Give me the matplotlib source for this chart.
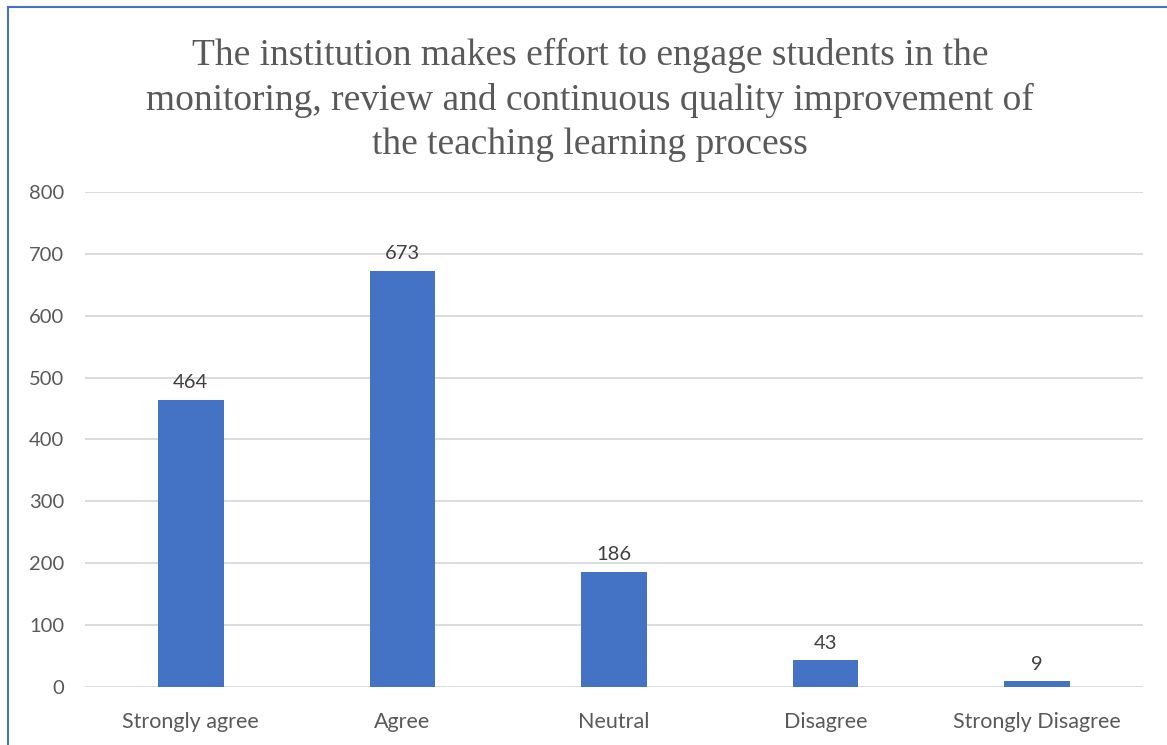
import matplotlib.pyplot as plt
from matplotlib.lines import Line2D

categories = ["Strongly agree", "Agree", "Neutral", "Disagree", "Strongly Disagree"]
counts = [464, 673, 186, 43, 9]
yticks = [0, 100, 200, 300, 400, 500, 600, 700, 800]

W, H = 1167, 745
fig = plt.figure(figsize=(W / 100, H / 100), dpi=100)
ax = fig.add_axes([85 / W, 1 - 687 / H, (1143 - 85) / W, (687 - 192) / H])

x = range(len(categories))
bars = ax.bar(x, counts, width=0.31, color="#4472C4", zorder=3)
for b, v in zip(bars, counts):
    ax.text(b.get_x() + b.get_width() / 2, v + 14, str(v), ha="center", va="bottom",
            fontsize=14.5, color="#404040", family="Lato")

ax.set_xlim(-0.5, len(categories) - 0.5)
ax.set_ylim(0, 800)
ax.set_yticks(yticks)
ax.set_xticks(list(x))
ax.set_xticklabels(categories)
ax.grid(axis="y", color="#D9D9D9", linewidth=1.3, zorder=0)
for s in ax.spines.values():
    s.set_visible(False)
ax.tick_params(length=0, labelcolor="#595959")
ax.tick_params(axis="y", pad=15, labelsize=14.5)
ax.tick_params(axis="x", pad=18, labelsize=15.5)
for lab in ax.get_xticklabels() + ax.get_yticklabels():
    lab.set_family("Lato")

fig.text(590 / W, 1 - 100 / H,
         "The institution makes effort to engage students in the\n"
         "monitoring, review and continuous quality improvement of\n"
         "the teaching learning process",
         ha="center", va="center", fontsize=27, color="#595959",
         family="Liberation Serif", linespacing=1.35)

# partial chart frame (left and top edges visible)
fig.add_artist(Line2D([8 / W, 8 / W], [0, 1 - 7 / H], transform=fig.transFigure,
                      color="#4472C4", linewidth=1.5))
fig.add_artist(Line2D([8 / W, 1], [1 - 7 / H, 1 - 7 / H], transform=fig.transFigure,
                      color="#4472C4", linewidth=1.5))

fig.savefig("out.png", dpi=100)
